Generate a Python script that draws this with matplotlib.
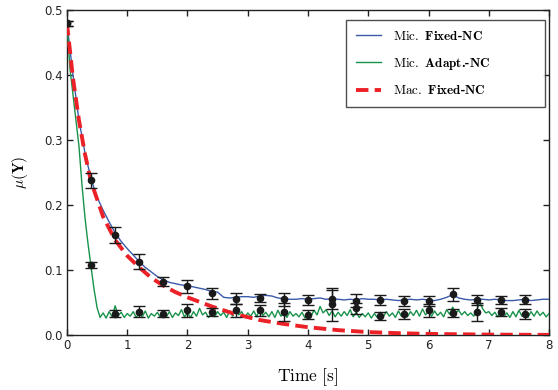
import numpy as np
import matplotlib
matplotlib.use("Agg")
import matplotlib.pyplot as plt

plt.rcParams['mathtext.fontset'] = 'cm'

# ---------------- data ----------------
# Mic. Fixed-NC simulated trajectory (dt = 0.1 s)
t_fixed = np.linspace(0, 8, 81)
mu_fixed = [0.480, 0.400, 0.330, 0.280, 0.240, 0.212, 0.192, 0.174, 0.157, 0.144,
            0.133, 0.123, 0.113, 0.104, 0.097, 0.090, 0.085, 0.081, 0.079, 0.077,
            0.076, 0.074, 0.072, 0.070, 0.067, 0.066, 0.058, 0.057, 0.058, 0.059,
            0.059, 0.058, 0.060, 0.061, 0.060, 0.057, 0.056, 0.055, 0.055, 0.056,
            0.055, 0.056, 0.057, 0.055, 0.056, 0.055, 0.054, 0.055, 0.054, 0.056,
            0.055, 0.055, 0.054, 0.055, 0.054, 0.053, 0.054, 0.055, 0.054, 0.055,
            0.054, 0.053, 0.055, 0.058, 0.062, 0.057, 0.055, 0.054, 0.055, 0.055,
            0.054, 0.055, 0.054, 0.053, 0.053, 0.054, 0.055, 0.053, 0.054, 0.055,
            0.055]

# Mic. Adapt.-NC simulated trajectory (dt = 0.05 s)
t_adapt = np.linspace(0, 8, 161)
mu_adapt = [0.480, 0.410, 0.370, 0.330, 0.290, 0.230, 0.180, 0.140, 0.105, 0.070,
            0.042, 0.027,
            0.034, 0.026, 0.036, 0.028, 0.045, 0.030, 0.035, 0.027, 0.033, 0.029,
            0.036, 0.027, 0.034, 0.028, 0.037, 0.026, 0.033, 0.029, 0.035, 0.027,
            0.032, 0.028, 0.036, 0.027, 0.034, 0.030, 0.039, 0.028, 0.034, 0.027,
            0.036, 0.029, 0.041, 0.031, 0.035, 0.027, 0.033, 0.028, 0.036, 0.030,
            0.035, 0.027, 0.037, 0.029, 0.040, 0.031, 0.036, 0.027, 0.034, 0.029,
            0.037, 0.028, 0.042, 0.030, 0.035, 0.028, 0.036, 0.027, 0.038, 0.029,
            0.034, 0.027, 0.036, 0.029, 0.033, 0.028, 0.035, 0.026, 0.034, 0.029,
            0.038, 0.031, 0.044, 0.034, 0.039, 0.030, 0.037, 0.028, 0.035, 0.029,
            0.036, 0.030, 0.039, 0.028, 0.035, 0.027, 0.033, 0.028, 0.034, 0.026,
            0.033, 0.027, 0.035, 0.028, 0.036, 0.029, 0.034, 0.027, 0.037, 0.029,
            0.035, 0.028, 0.036, 0.030, 0.038, 0.029, 0.040, 0.031, 0.036, 0.029,
            0.037, 0.030, 0.035, 0.028, 0.039, 0.032, 0.043, 0.034, 0.038, 0.031,
            0.036, 0.030, 0.034, 0.029, 0.038, 0.051, 0.040, 0.034, 0.036, 0.030,
            0.035, 0.028, 0.037, 0.029, 0.034, 0.027, 0.036, 0.028, 0.038, 0.029,
            0.034, 0.027, 0.036, 0.029, 0.037, 0.030, 0.035, 0.028, 0.033]

# Mac. Fixed-NC (macroscopic model)
t_mac = [0.0, 0.1, 0.2, 0.3, 0.4, 0.6, 0.8, 1.0, 1.2, 1.4, 1.6, 1.8, 2.0,
         2.4, 2.8, 3.2, 3.6, 4.0, 4.5, 5.0, 5.5, 6.0, 7.0, 8.0]
mu_mac = [0.480, 0.395, 0.330, 0.278, 0.236, 0.182, 0.146, 0.122, 0.104, 0.088,
          0.076, 0.066, 0.058, 0.044, 0.032, 0.023, 0.017, 0.012, 0.0075, 0.0045,
          0.0028, 0.0017, 0.0006, 0.0002]

# error-bar samples
t_err = [0.0, 0.4, 0.8, 1.2, 1.6, 2.0, 2.4, 2.8, 3.2, 3.6, 4.0,
         4.4, 4.8, 5.2, 5.6, 6.0, 6.4, 6.8, 7.2, 7.6]
fixed_mean = [0.480, 0.238, 0.154, 0.113, 0.082, 0.075, 0.064, 0.056, 0.057, 0.055,
              0.054, 0.055, 0.053, 0.054, 0.052, 0.052, 0.063, 0.054, 0.054, 0.054]
fixed_err = [0.004, 0.012, 0.012, 0.011, 0.007, 0.010, 0.008, 0.008, 0.006, 0.010,
             0.008, 0.015, 0.010, 0.008, 0.008, 0.008, 0.010, 0.008, 0.006, 0.007]
adapt_mean = [0.480, 0.108, 0.033, 0.036, 0.033, 0.038, 0.036, 0.038, 0.038, 0.035,
              0.031, 0.047, 0.041, 0.029, 0.032, 0.038, 0.034, 0.036, 0.036, 0.032]
adapt_err = [0.004, 0.005, 0.006, 0.008, 0.005, 0.010, 0.006, 0.010, 0.008, 0.014,
             0.007, 0.025, 0.008, 0.006, 0.008, 0.010, 0.006, 0.014, 0.006, 0.008]

labels = [r'$\mathrm{Mic.}$ Fixed-NC', r'$\mathrm{Mic.}$ Adapt.-NC', r'$\mathrm{Mac.}$ Fixed-NC']

# ---------------- plot ----------------
fig = plt.figure(figsize=(5.58, 3.90), dpi=100)
ax = fig.add_axes([0.120, 0.141, 0.864, 0.833])

ax.plot(t_fixed, mu_fixed, color='#3a5ba9', lw=1.0, label=labels[0], zorder=3)
ax.plot(t_adapt, mu_adapt, color='#17924a', lw=1.0, label=labels[1], zorder=3)
ax.plot(t_mac, mu_mac, color='#ec2127', lw=2.8, ls=(0, (3.2, 1.6)), label=labels[2], zorder=4)

for m, e in [(fixed_mean, fixed_err), (adapt_mean, adapt_err)]:
    ax.errorbar(t_err, m, yerr=e, fmt='o', color='#1a1a1a', ms=4.5, elinewidth=1.0,
                capsize=4, capthick=1.0, zorder=5)

ax.set_xlim(0, 8)
ax.set_ylim(0, 0.5)
ax.set_xticks(range(0, 9))
ax.set_yticks([0.0, 0.1, 0.2, 0.3, 0.4, 0.5])
ax.set_yticklabels(['0.0', '0.1', '0.2', '0.3', '0.4', '0.5'])
ax.tick_params(direction='in', top=True, right=True, length=4, width=1,
               labelsize=8.5, colors='#222222', pad=3)
for s in ax.spines.values():
    s.set_color('#222222')
    s.set_linewidth(1.0)

ax.set_xlabel(r'$\mathrm{Time\ [s]}$', fontsize=12.5, labelpad=10)
ax.set_ylabel(r'$\mu(\mathbf{Y})$', fontsize=11, labelpad=10)

leg = ax.legend(loc='upper left', bbox_to_anchor=(0.579, 0.70, 0.413, 0.269),
                mode='expand', borderaxespad=0, frameon=True, fancybox=False,
                handlelength=1.9, labelspacing=0.95, borderpad=0.75,
                handletextpad=0.9,
                prop={'family': ['cmb10', 'DejaVu Serif'], 'size': 9.5})
leg.get_frame().set_edgecolor('#222222')
leg.get_frame().set_linewidth(1.0)

fig.savefig('out.png', dpi=100)
